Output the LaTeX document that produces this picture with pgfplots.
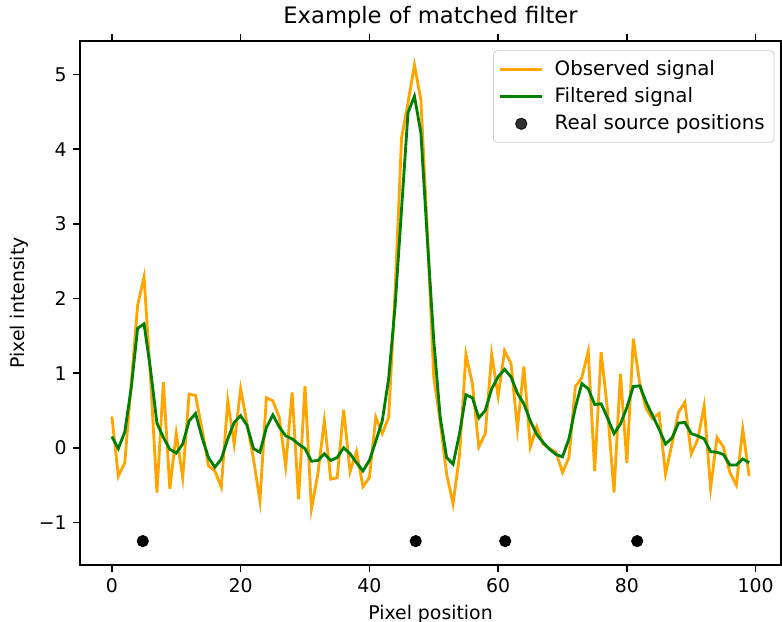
\documentclass[border=0pt]{standalone}
\usepackage{fontspec}
\setmainfont{DejaVu Sans}
\usepackage{pgfplots}
\pgfplotsset{compat=1.18}
\usepackage{pgfplotstable}

\definecolor{mplorange}{HTML}{FFA500}
\definecolor{mplgreen}{HTML}{008000}

% pixel index, observed signal, filtered signal
\pgfplotstableread{
x o f
0 0.42 0.15
1 -0.38 -0.01
2 -0.20 0.21
3 0.85 0.80
4 1.91 1.60
5 2.29 1.66
6 0.95 1.05
7 -0.60 0.33
8 0.88 0.14
9 -0.55 -0.02
10 0.19 -0.07
11 -0.40 0.05
12 0.72 0.36
13 0.70 0.46
14 0.25 0.14
15 -0.24 -0.13
16 -0.31 -0.26
17 -0.53 -0.15
18 0.63 0.12
19 0.05 0.34
20 0.79 0.43
21 0.32 0.30
22 -0.15 -0.01
23 -0.71 -0.06
24 0.67 0.27
25 0.63 0.44
26 0.41 0.28
27 -0.25 0.16
28 0.74 0.12
29 -0.69 0.05
30 0.83 -0.01
31 -0.82 -0.18
32 -0.35 -0.17
33 0.36 -0.08
34 -0.42 -0.17
35 -0.40 -0.13
36 0.51 0.00
37 -0.32 -0.08
38 -0.05 -0.20
39 -0.52 -0.31
40 -0.40 -0.17
41 0.41 0.09
42 0.19 0.36
43 0.41 0.93
44 2.10 1.90
45 4.15 3.20
46 4.62 4.49
47 5.13 4.71
48 4.66 4.22
49 2.90 2.80
50 0.95 1.44
51 0.35 0.41
52 -0.35 -0.13
53 -0.75 -0.22
54 -0.10 0.19
55 1.25 0.71
56 0.86 0.67
57 0.01 0.40
58 0.19 0.50
59 1.25 0.79
60 0.69 0.95
61 1.30 1.05
62 1.13 0.95
63 0.26 0.73
64 1.09 0.59
65 0.01 0.36
66 0.28 0.18
67 0.05 0.07
68 -0.01 -0.02
69 -0.06 -0.09
70 -0.33 -0.12
71 -0.13 0.12
72 0.82 0.54
73 0.94 0.86
74 1.29 0.79
75 -0.31 0.58
76 1.28 0.59
77 0.50 0.40
78 -0.60 0.19
79 0.99 0.32
80 -0.20 0.54
81 1.46 0.82
82 0.86 0.83
83 0.52 0.61
84 0.39 0.43
85 0.46 0.25
86 -0.35 0.05
87 0.05 0.13
88 0.47 0.33
89 0.61 0.34
90 -0.08 0.19
91 0.11 0.16
92 0.56 0.12
93 -0.54 -0.05
94 0.14 -0.06
95 0.01 -0.09
96 -0.33 -0.23
97 -0.50 -0.23
98 0.25 -0.15
99 -0.38 -0.20
}\signal

\pgfplotstableread{
x y
4.8 -1.25
47.2 -1.25
61.1 -1.25
81.6 -1.25
}\sources

\begin{document}
\begin{tikzpicture}
\begin{axis}[
    scale only axis,
    width=371.5pt, height=277.7pt,
    xmin=-4.95, xmax=103.95,
    ymin=-1.57, ymax=5.45,
    xtick={0,20,40,60,80,100},
    ytick={-1,0,1,2,3,4,5},
    yticklabels={−1,0,1,2,3,4,5},
    /pgf/number format/assume math mode=true,
    tick align=outside,
    major tick length=3.5pt,
    tick style={line width=0.8pt, black},
    axis line style={line width=0.8pt},
    ticklabel style={font=\fontsize{10}{12}\selectfont},
    title={Example of matched filter},
    title style={font=\fontsize{12}{14}\selectfont, yshift=-3pt},
    xlabel={Pixel position},
    ylabel={Pixel intensity},
    label style={font=\fontsize{10}{12}\selectfont},
    ylabel style={yshift=-1.5pt},
    legend cell align=left,
    legend image code/.code={\draw[mark repeat=2,mark phase=2,#1] plot coordinates {(0pt,0pt) (11pt,0pt) (22pt,0pt)};},
    legend style={at={(1,1)}, anchor=north east, xshift=-3.5pt, yshift=-5pt,
        draw=white!80!black, rounded corners=2pt, fill=white, fill opacity=0.8, text opacity=1,
        font=\fontsize{10.5}{12.5}\selectfont, row sep=1pt, inner xsep=3pt, inner ysep=3pt,
        /tikz/every odd column/.append style={column sep=4pt}},
]
\addplot[mplorange, line width=1.5pt] table[x=x, y=o] {\signal};
\addlegendentry{Observed signal}
\addplot[mplgreen, line width=1.5pt] table[x=x, y=f] {\signal};
\addlegendentry{Filtered signal}
\addplot[only marks, mark=*, mark size=3pt, black] table[x=x, y=y] {\sources};
\addlegendentry{Real source positions}
\end{axis}
\pgfresetboundingbox
\useasboundingbox ([xshift=-42.4pt, yshift=-30.2pt]current axis.south west) rectangle ([xshift=0.5pt, yshift=21.7pt]current axis.north east);
\end{tikzpicture}
\end{document}
